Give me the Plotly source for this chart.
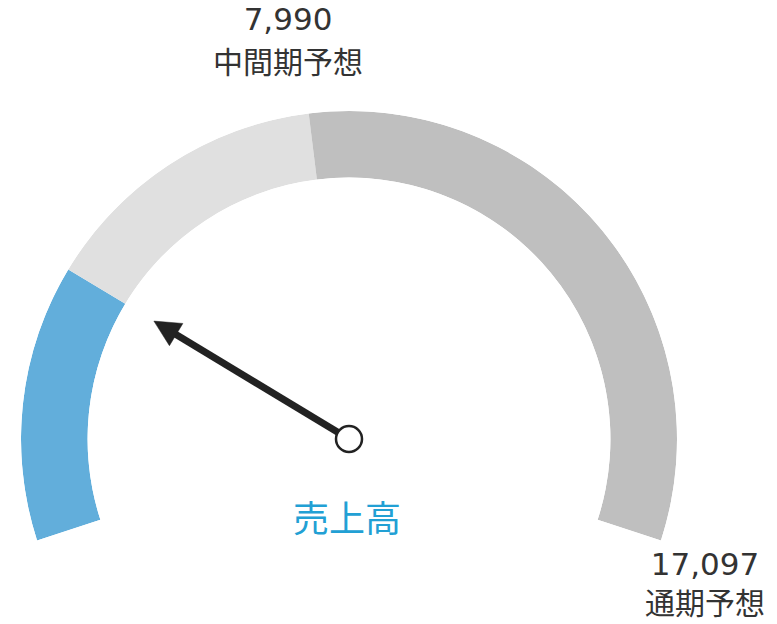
import math
import plotly.graph_objects as go

# ---- data ----
metric_label = "売上高"
mid_label = "中間期予想"
full_label = "通期予想"
full_year_target = 17097
half_year_target = 7990
actual_sales = 3890

segment_starts = [0, actual_sales, half_year_target]
segment_ends = [actual_sales, half_year_target, full_year_target]
segment_colors = ["#62aedb", "#e0e0e0", "#bfbfbf"]

# ---- gauge geometry (style) ----
SWEEP = 216          # degrees covered by the gauge
START = 198          # screen angle of the gauge start
RADIUS_PX = 328      # outer radius of the gauge in pixels
NEEDLE_LEN = 0.695   # fraction of outer radius
HEAD_LEN_PX = 26
HEAD_HALF_W_PX = 13
DOMAIN_X = [0.02703, 0.87130]
DOMAIN_Y = [0.13397, 0.82212]
FONT = "Noto Sans CJK JP"
NUM_FONT = "DejaVu Sans"
NEEDLE_COLOR = "#222222"
TEXT_COLOR = "#333333"


def to_theta(v):
    return v / full_year_target * SWEEP


fig = go.Figure()

for s, e, c in zip(segment_starts, segment_ends, segment_colors):
    fig.add_trace(go.Barpolar(
        r=[1], base=[0],
        theta=[to_theta((s + e) / 2)],
        width=[to_theta(e - s)],
        marker=dict(color=c, line=dict(width=0)),
        hoverinfo="skip", subplot="polar", showlegend=False,
    ))

t = to_theta(actual_sales)
tip_px = NEEDLE_LEN * RADIUS_PX
base_px = tip_px - HEAD_LEN_PX
barb_r = math.hypot(base_px, HEAD_HALF_W_PX) / RADIUS_PX
barb_dt = math.degrees(math.atan2(HEAD_HALF_W_PX, base_px))

# needle shaft
fig.add_trace(go.Scatterpolar(
    r=[0, base_px / RADIUS_PX + 0.005], theta=[t, t],
    mode="lines", line=dict(color=NEEDLE_COLOR, width=7),
    cliponaxis=False, hoverinfo="skip", subplot="polar2", showlegend=False,
))
# arrow head
fig.add_trace(go.Scatterpolar(
    r=[NEEDLE_LEN, barb_r, barb_r, NEEDLE_LEN],
    theta=[t, t - barb_dt, t + barb_dt, t],
    mode="lines", fill="toself", fillcolor=NEEDLE_COLOR,
    line=dict(color=NEEDLE_COLOR, width=0.5),
    cliponaxis=False, hoverinfo="skip", subplot="polar2", showlegend=False,
))
# hub
fig.add_trace(go.Scatterpolar(
    r=[0], theta=[t], mode="markers",
    marker=dict(symbol="circle", size=26, color="white", opacity=1,
                line=dict(color=NEEDLE_COLOR, width=2.5)),
    cliponaxis=False, hoverinfo="skip", subplot="polar2", showlegend=False,
))

common_angular = dict(rotation=START, direction="clockwise", visible=False,
                      thetaunit="degrees")
common_radial = dict(range=[0, 1], visible=False)


def two_line(value, label):
    return (f"<span style='font-family:{NUM_FONT};font-size:31px'>{value:,}</span>"
            f"<br><span style='font-size:30px'>{label}</span>")


def px_ann(text, px, py, size, color):
    return dict(text=text, x=px / 777, y=1 - py / 624,
                xref="paper", yref="paper", xanchor="center", yanchor="middle",
                showarrow=False, font=dict(family=FONT, size=size, color=color))


fig.update_layout(
    width=777, height=624,
    margin=dict(l=0, r=0, t=0, b=0),
    paper_bgcolor="white", plot_bgcolor="white",
    polar=dict(domain=dict(x=DOMAIN_X, y=DOMAIN_Y), sector=[-18, 198],
               hole=0.797, bgcolor="rgba(0,0,0,0)",
               radialaxis=common_radial, angularaxis=common_angular),
    polar2=dict(domain=dict(x=DOMAIN_X, y=DOMAIN_Y), sector=[-18, 198],
                hole=0, bgcolor="rgba(0,0,0,0)",
                radialaxis=common_radial, angularaxis=common_angular),
    annotations=[
        px_ann(two_line(half_year_target, mid_label), 288, 42, 33, TEXT_COLOR),
        px_ann(two_line(full_year_target, full_label), 705, 584, 30, TEXT_COLOR),
        px_ann(metric_label, 347, 516, 36, "#22a0d4"),
    ],
)

fig.write_html("out.html", config={"displayModeBar": False},
               post_script="document.body.style.margin='0px';")
